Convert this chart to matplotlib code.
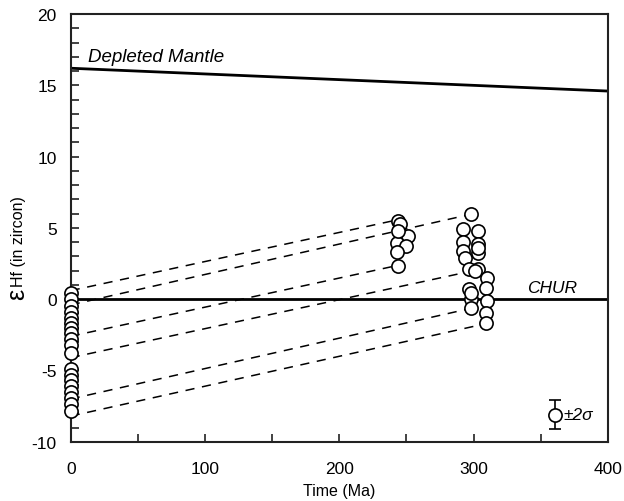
"""Hf isotope evolution of zircon: eHf vs time with DM and CHUR reference lines."""
import matplotlib
matplotlib.use("Agg")
import matplotlib.pyplot as plt
from matplotlib.ticker import MultipleLocator

plt.rcParams["font.family"] = ["Liberation Sans", "DejaVu Sans"]
plt.rcParams["axes.unicode_minus"] = False

# zircons plotted at present day (0 Ma)
young_age = [0] * 19
young_ehf = [0.45, 0.0, -0.45, -0.9, -1.3, -1.65, -2.0, -2.4, -2.8, -3.2, -3.75,
             -4.9, -5.3, -5.7, -6.1, -6.5, -6.95, -7.35, -7.85]

# ~245 Ma group
mid_age = [244, 245, 251, 243, 250, 243, 244, 244]
mid_ehf = [5.5, 5.3, 4.45, 3.95, 3.7, 3.3, 4.8, 2.3]

# ~300 Ma group
old_age = [298, 292, 303, 292, 303, 292, 303, 294, 297, 303, 310, 301, 309, 297,
           298, 310, 298, 309, 309, 298, 303]
old_ehf = [6.0, 4.95, 4.8, 4.0, 3.85, 3.4, 3.25, 2.9, 2.1, 2.1, 1.5, 2.0, 0.8,
           0.7, 0.0, -0.1, -0.6, -0.95, -1.65, 0.4, 3.6]

# dashed evolution lines (present-day eHf -> crystallisation age)
dash_start_ehf = [0.6, -0.4, -2.6, -4.1, -7.0, -8.2]
dash_end_age = [245, 300, 245, 300, 300, 310]
dash_end_ehf = [5.6, 6.0, 2.4, 2.0, -0.6, -1.7]

# reference reservoirs
dm_age = [0, 400]
dm_ehf = [16.2, 14.6]
chur_age = [0, 400]
chur_ehf = [0, 0]

fig = plt.figure(figsize=(6.24, 5.02), dpi=100)
ax = fig.add_axes([0.1133, 0.118, 0.8607, 0.852])

for e0, t1, e1 in zip(dash_start_ehf, dash_end_age, dash_end_ehf):
    ax.plot([0, t1], [e0, e1], color="black", lw=1.1, dashes=(6, 5), zorder=2)

ax.plot(dm_age, dm_ehf, color="black", lw=2, zorder=2)
ax.plot(chur_age, chur_ehf, color="black", lw=2, zorder=2)

marker = dict(marker="o", ms=9.5, mfc="white", mec="black", mew=1.2, ls="none",
              zorder=4, clip_on=False)
ax.plot(young_age, young_ehf, **marker)
ax.plot(mid_age, mid_ehf, **marker)
ax.plot(old_age, old_ehf, **marker)

# 2 sigma error symbol
ax.errorbar([361], [-8.1], yerr=[1.0], fmt="o", ms=9.5, mfc="white", mec="black",
            mew=1.2, ecolor="black", elinewidth=1.2, capsize=4, capthick=1.2, zorder=3)
ax.text(367, -8.1, "±2σ", fontsize=12.5, style="italic", va="center", ha="left")

ax.text(13, 17.0, "Depleted Mantle", fontsize=13.5, style="italic", va="center")
ax.text(340, 0.85, "CHUR", fontsize=12.5, style="italic", va="center")

ax.set_xlim(0, 400)
ax.set_ylim(-10, 20)
ax.xaxis.set_major_locator(MultipleLocator(100))
ax.xaxis.set_minor_locator(MultipleLocator(50))
ax.yaxis.set_major_locator(MultipleLocator(5))
ax.yaxis.set_minor_locator(MultipleLocator(1))
ax.tick_params(which="both", direction="in", length=6, width=1.2, top=False,
               right=False, labelsize=12.5, colors="#222222", labelcolor="black")
ax.tick_params(axis="x", pad=14)
ax.tick_params(axis="y", pad=10)
for s in ax.spines.values():
    s.set_linewidth(1.5)
    s.set_color("#222222")

ax.set_xlabel("Time (Ma)", fontsize=11.5, labelpad=5)
fig.text(0.027, 0.414, "ε", fontsize=18, rotation=90, ha="center", va="center")
fig.text(0.030, 0.518, "Hf (in zircon)", fontsize=11.5, rotation=90, ha="center", va="center")

fig.savefig("out.png", dpi=100)
